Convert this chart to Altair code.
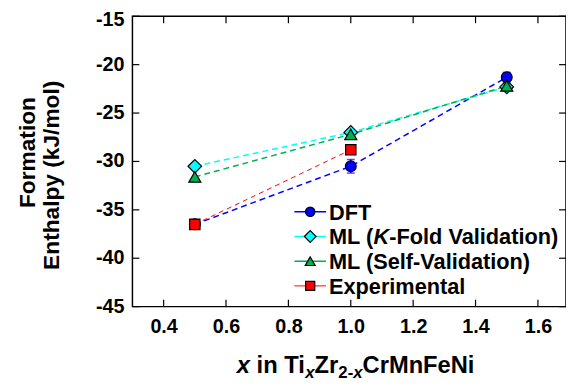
import altair as alt
import pandas as pd

# ---- data ----
x_vals = [0.5, 1.0, 1.5]
dft = [-36.5, -30.5, -21.3]
dft_err = [0.4, 0.7, 0.5]
kfold = [-30.5, -27.0, -22.3]
selfval = [-31.6, -27.2, -22.2]
exp_x = [0.5, 1.0]
exp_y = [-36.5, -28.8]

x_ticks = [0.4, 0.6, 0.8, 1.0, 1.2, 1.4, 1.6]
y_ticks = [-45, -40, -35, -30, -25, -20, -15]

legend_labels = ["DFT", "ML (K-Fold Validation)", "ML (Self-Validation)", "Experimental"]

W, H = 439, 294
FONT = "Liberation Sans"
XD = [0.3, 1.69]
YD = [-45, -15]

xs = alt.Scale(domain=XD, nice=False, zero=False)
ys = alt.Scale(domain=YD, nice=False, zero=False)

def df(x, y):
    return pd.DataFrame({"x": x, "y": y})

def series(x, y, color, shape, size, dash, lw):
    d = df(x, y)
    base = alt.Chart(d)
    line = base.mark_line(color=color, strokeDash=dash, strokeWidth=lw).encode(
        x=alt.X("x:Q", scale=xs), y=alt.Y("y:Q", scale=ys))
    pts = base.mark_point(shape=shape, filled=True, fill=color, stroke="black",
                          strokeWidth=1.2, size=size, opacity=1).encode(
        x=alt.X("x:Q", scale=xs), y=alt.Y("y:Q", scale=ys))
    return line, pts

BLUE, CYAN, GREEN, RED = "#0000FF", "#00FFFF", "#00B050", "#FF0000"

l1, p1 = series(x_vals, dft, BLUE, "circle", 120, [6, 4], 1.5)
l2, p2 = series(x_vals, kfold, CYAN, "diamond", 190, [6, 4], 1.5)
l3, p3 = series(x_vals, selfval, GREEN, "triangle-up", 150, [6, 4], 1.5)
l4, p4 = series(exp_x, exp_y, RED, "square", 110, [5, 4], 1.0)

err_df = pd.DataFrame({"x": x_vals, "lo": [v - e for v, e in zip(dft, dft_err)],
                       "hi": [v + e for v, e in zip(dft, dft_err)]})
err = alt.Chart(err_df).mark_rule(color=BLUE, strokeWidth=1.5).encode(
    x=alt.X("x:Q", scale=xs), y=alt.Y("lo:Q", scale=ys), y2="hi:Q")
cap_lo = alt.Chart(err_df).mark_tick(color=BLUE, thickness=1.5, size=8, orient="horizontal").encode(
    x=alt.X("x:Q", scale=xs), y=alt.Y("lo:Q", scale=ys))
cap_hi = alt.Chart(err_df).mark_tick(color=BLUE, thickness=1.5, size=8, orient="horizontal").encode(
    x=alt.X("x:Q", scale=xs), y=alt.Y("hi:Q", scale=ys))

LBL = 20
xaxis_base = alt.Chart(pd.DataFrame({"x": x_ticks})).mark_rule(color="black", strokeWidth=1.2).encode(
    x=alt.X("x:Q", scale=xs, axis=alt.Axis(values=x_ticks, format=".1f", ticks=False, domain=False,
                                           grid=False, labelFont=FONT, labelFontWeight="bold",
                                           labelFontSize=LBL, labelColor="black", labelPadding=10,
                                           title=None)),
    y=alt.value(H), y2=alt.value(H - 7))
xtop = alt.Chart(pd.DataFrame({"x": x_ticks})).mark_rule(color="black", strokeWidth=1.2).encode(
    x=alt.X("x:Q", scale=xs), y=alt.value(0), y2=alt.value(7))
yaxis_base = alt.Chart(pd.DataFrame({"y": y_ticks})).mark_rule(color="black", strokeWidth=1.2).encode(
    y=alt.Y("y:Q", scale=ys, axis=None),
    x=alt.value(0), x2=alt.value(7))
yright = alt.Chart(pd.DataFrame({"y": y_ticks})).mark_rule(color="black", strokeWidth=1.2).encode(
    y=alt.Y("y:Q", scale=ys), x=alt.value(W - 7), x2=alt.value(W))

# y tick labels as text (top one nudged so it is not cut by the page edge)
ylab_df = pd.DataFrame({"y": y_ticks})
ylab = alt.Chart(ylab_df).transform_filter(alt.datum.y < max(y_ticks)).transform_calculate(
    lab="toString(datum.y)").mark_text(align="right", baseline="middle", font=FONT,
                                      fontWeight="bold", fontSize=LBL, color="black").encode(
    y=alt.Y("y:Q", scale=ys), x=alt.value(-8), text="lab:N")
ylab_top = alt.Chart(ylab_df).transform_filter(alt.datum.y == max(y_ticks)).transform_calculate(
    lab="toString(datum.y)").mark_text(align="right", baseline="middle", font=FONT,
                                      fontWeight="bold", fontSize=LBL, color="black", dy=4).encode(
    y=alt.Y("y:Q", scale=ys), x=alt.value(-8), text="lab:N")

# manual legend
LX0, LX1, LTX = 164, 196, 199
rows_y = [198, 223, 248, 273]
leg_colors = [BLUE, CYAN, GREEN, RED]
leg_shapes = ["circle", "diamond", "triangle-up", "square"]
leg_sizes = [90, 140, 100, 85]
leg_widths = [1.5, 1.5, 1.5, 1.0]
legend_layers = []
for i in range(4):
    d1 = pd.DataFrame({"k": [legend_labels[i]]})
    legend_layers.append(alt.Chart(d1).mark_rule(color=leg_colors[i], strokeWidth=leg_widths[i]).encode(
        x=alt.value(LX0), x2=alt.value(LX1), y=alt.value(rows_y[i])))
    legend_layers.append(alt.Chart(d1).mark_point(shape=leg_shapes[i], filled=True, fill=leg_colors[i],
                                                  stroke="black", strokeWidth=1.2, size=leg_sizes[i],
                                                  opacity=1).encode(
        x=alt.value((LX0 + LX1) / 2), y=alt.value(rows_y[i])))

# Arial Bold advance widths (per em)
AW = {" ": .278, "(": .333, ")": .333, "-": .333, "/": .278, "2": .556, "C": .722,
      "D": .722, "E": .667, "F": .611, "K": .722, "L": .611, "M": .833, "N": .722, "S": .667,
      "T": .611, "V": .667, "Z": .611, "a": .556, "d": .611, "e": .556, "f": .333, "i": .278,
      "l": .278, "m": .889, "n": .611, "o": .611, "p": .611, "r": .389, "t": .333, "x": .556,
      "y": .556, "h": .611, "k": .556, "J": .556, "P": .667}

def tw(s, size):
    return sum(AW.get(c, .6) for c in s) * size

def text_runs(runs, x0, y0):
    """runs: list of (text, size, italic, dy, gap_before_px)"""
    out = []
    x = x0
    for t, size, it, dy, gap in runs:
        x += gap
        out.append(alt.Chart(pd.DataFrame({"t": [t]})).mark_text(
            align="left", baseline="alphabetic", font=FONT, fontWeight="bold",
            fontStyle="italic" if it else "normal", fontSize=size, color="black").encode(
            text="t:N", x=alt.value(x), y=alt.value(y0 + dy)))
        x += tw(t, size)
    return out

LF = 22
leg_runs = [
    [("DFT", LF, False, 0, 0)],
    [("ML (", LF, False, 0, 0), ("K", LF, True, 0, 0), ("-Fold Validation)", LF, False, 0, 0)],
    [("ML (Self-Validation)", LF, False, 0, 0)],
    [("Experimental", LF, False, 0, 0)],
]
for i, r in enumerate(leg_runs):
    legend_layers += text_runs(r, LTX, rows_y[i] + 8)

# x-axis title
TF, SF = 24, 17
SP = 0.278 * TF
xt_runs = [("x", TF, True, 0, 0), ("in Ti", TF, False, 0, SP), ("x", SF, True, 5, 0),
           ("Zr", TF, False, 0, 0), ("2-", SF, False, 5, 0), ("x", SF, True, 5, 0),
           ("CrMnFeNi", TF, False, 0, 0)]
total = sum(tw(t, s) + g for t, s, _, _, g in xt_runs)
title_layers = text_runs(xt_runs, 226 - total / 2, 361)

# y-axis title (two rotated lines)
ytitle = []
for txt, cx, cy in [("Formation", -106, 138), ("Enthalpy (kJ/mol)", -81, 161)]:
    ytitle.append(alt.Chart(pd.DataFrame({"t": [txt]})).mark_text(
        align="center", baseline="middle", angle=270, font=FONT, fontWeight="bold",
        fontSize=23, color="black").encode(text="t:N", x=alt.value(cx), y=alt.value(cy)))

chart = alt.layer(
    xaxis_base, xtop, yaxis_base, yright, ylab, ylab_top,
    l1, l2, l3, l4, err, cap_lo, cap_hi, p1, p2, p3, p4,
    *legend_layers, *title_layers, *ytitle
).properties(
    width=W, height=H,
    autosize=alt.AutoSizeParams(type="none"),
    padding={"left": 126, "top": 6, "right": 0, "bottom": 78},
).configure_view(stroke="black", strokeWidth=1.5)

chart.save("out.html", embed_options={"renderer": "svg", "actions": False})
